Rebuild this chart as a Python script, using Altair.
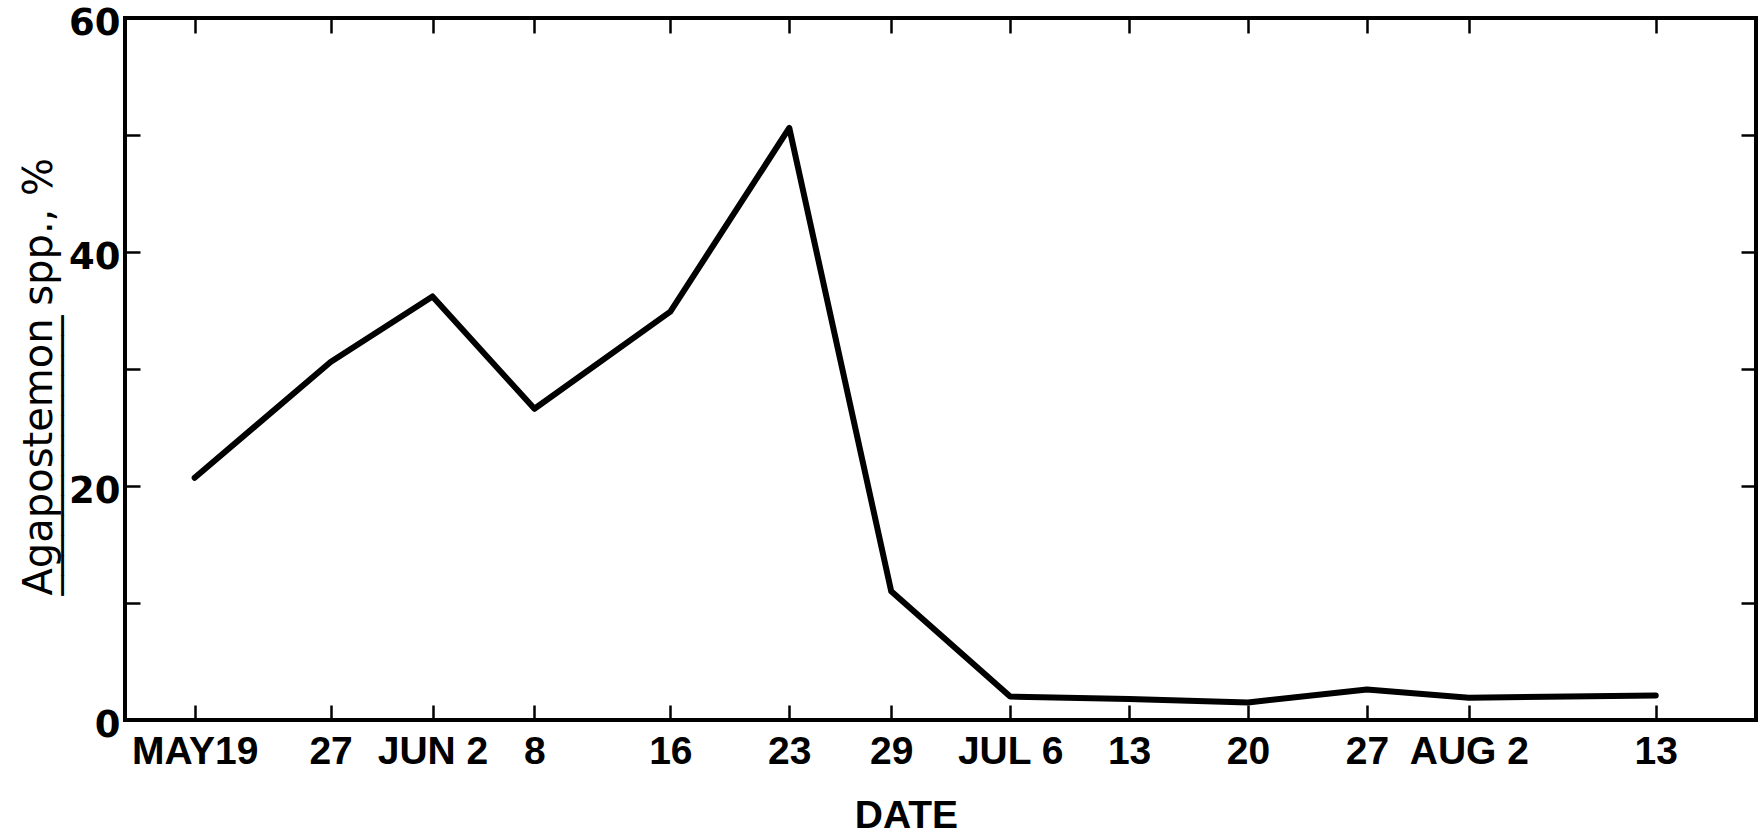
import json
import altair as alt
import pandas as pd

# Sampling dates (day number counted from May 1) and their axis labels
date_days = [19, 27, 33, 39, 47, 54, 60, 67, 74, 81, 88, 94, 105]
date_labels = ["MAY19", "27", "JUN 2", "8", "16", "23", "29", "JUL 6", "13", "20", "27", "AUG 2", "13"]

# Agapostemon spp. share (%) at each sampling date
agapostemon_pct = [20.7, 30.6, 36.2, 26.6, 34.9, 50.6, 11.0, 2.0, 1.8, 1.5, 2.6, 1.9, 2.1]

y_ticks = [0, 10, 20, 30, 40, 50, 60]

df = pd.DataFrame({"day": date_days, "pct": agapostemon_pct})

x_domain = [14.9, 110.9]
y_domain = [0, 60]

label_expr = "{}[indexof({}, datum.value)]".format(json.dumps(date_labels), json.dumps(date_days))

# Y title: text line plus an underscore line that underlines the genus name
y_title = ["Agapostemon spp., %", "_" * 14]

x_scale = alt.Scale(domain=x_domain, nice=False, zero=False)
y_scale = alt.Scale(domain=y_domain, nice=False, zero=True)

main = alt.Chart(df).mark_line(
    color="black", strokeWidth=6, strokeCap="round", strokeJoin="round"
).encode(
    x=alt.X(
        "day:Q",
        scale=x_scale,
        axis=alt.Axis(
            orient="bottom",
            values=date_days,
            labelExpr=label_expr,
            offset=-15,
            tickSize=15,
            tickWidth=2.5,
            tickColor="black",
            domain=False,
            grid=False,
            labelFont="Liberation Sans",
            labelFontWeight="bold",
            labelFontSize=39,
            labelColor="black",
            labelPadding=12,
            labelFlush=False,
            labelOverlap=False,
            labelBound=False,
            title="DATE",
            titleFont="Liberation Sans",
            titleFontWeight="bold",
            titleFontSize=39,
            titleColor="black",
            titleAlign="center",
            titleBaseline="alphabetic",
            titleX=781,
            titleY=122,
        ),
    ),
    y=alt.Y(
        "pct:Q",
        scale=y_scale,
        axis=alt.Axis(
            orient="left",
            values=y_ticks,
            labelExpr="datum.value % 20 == 0 ? datum.label : ''",
            offset=-15,
            tickSize=15,
            tickWidth=2.5,
            tickColor="black",
            domain=False,
            grid=False,
            labelFont="DejaVu Sans",
            labelFontWeight="bold",
            labelFontSize=37,
            labelColor="black",
            labelPadding=5,
            labelBaseline="middle",
            labelOffset=5,
            labelFlush=False,
            labelOverlap=False,
            labelBound=False,
            title=y_title,
            titleFont="DejaVu Sans",
            titleFontWeight="normal",
            titleFontSize=40,
            titleColor="black",
            titleAngle=270,
            titleAlign="left",
            titleBaseline="alphabetic",
            titleLineHeight=2,
            titleX=-89,
            titleY=577,
        ),
    ),
)

ticks_only = alt.Chart(df).mark_line(strokeOpacity=0).encode(
    x=alt.X(
        "day:Q",
        scale=x_scale,
        axis=alt.Axis(
            orient="top",
            values=date_days,
            offset=-15,
            tickSize=15,
            tickWidth=2.5,
            tickColor="black",
            domain=False,
            grid=False,
            labels=False,
            title=None,
        ),
    ),
    y=alt.Y(
        "pct:Q",
        scale=y_scale,
        axis=alt.Axis(
            orient="right",
            values=y_ticks,
            offset=-15,
            tickSize=15,
            tickWidth=2.5,
            tickColor="black",
            domain=False,
            grid=False,
            labels=False,
            title=None,
        ),
    ),
)

chart = (
    alt.layer(main, ticks_only)
    .resolve_axis(x="independent", y="independent")
    .properties(
        width=1631,
        height=702,
        autosize=alt.AutoSizeParams(type="none"),
        padding={"left": 125, "top": 18, "right": 6, "bottom": 114},
        background="white",
    )
    .configure_view(stroke="black", strokeWidth=4)
)

chart.save("out.html", embed_options={"renderer": "svg", "actions": False})
